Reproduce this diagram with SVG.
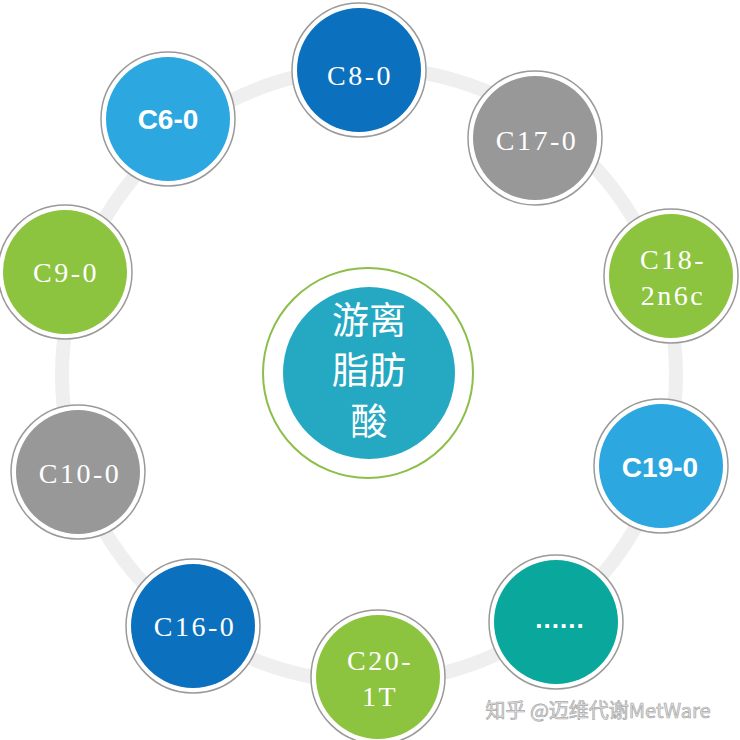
<svg xmlns="http://www.w3.org/2000/svg" width="740" height="740" viewBox="0 0 740 740">
<style>
.ring{fill:#fff;stroke:#9a9a9a;stroke-width:1.5}
.lbl{font-family:"Liberation Serif","Times New Roman",serif;font-size:28px;fill:#fff;text-anchor:middle;letter-spacing:2.5px}
.bold{font-family:"Liberation Sans",Arial,sans-serif;font-size:28px;font-weight:bold;fill:#fff;text-anchor:middle}
.cn{font-family:"Noto Sans CJK SC","Noto Sans CJK JP",sans-serif;font-size:37px;fill:#fff;text-anchor:middle}
.blue{fill:#0B70BD}.gray{fill:#989898}.green{fill:#8DC43F}.lblue{fill:#2DA7E0}.teal{fill:#0AA79C}
</style>
<g id="connectors">
<circle cx="369" cy="375" r="307" fill="none" stroke="#EFEFEF" stroke-width="14"/>
</g>
<g id="center">
<circle cx="368" cy="373" r="105" fill="#fff" stroke="#8DBE4A" stroke-width="2"/>
<circle cx="369" cy="373" r="86" fill="#25A8C1"/>
<text class="cn" x="369" y="334">游离</text>
<text class="cn" x="369" y="384">脂肪</text>
<text class="cn" x="369" y="435">酸</text>
</g>
<g id="n-c8">
<circle class="ring" cx="359" cy="70" r="67"/><circle class="blue" cx="359" cy="70" r="62"/>
<text class="lbl" x="360" y="85">C8-0</text>
</g>
<g id="n-c17">
<circle class="ring" cx="535" cy="138" r="67"/><circle class="gray" cx="535" cy="138" r="62"/>
<text class="lbl" x="537" y="150">C17-0</text>
</g>
<g id="n-c18">
<circle class="ring" cx="671" cy="276" r="67"/><circle class="green" cx="671" cy="276" r="62"/>
<text class="lbl" x="673" y="269">C18-</text>
<text class="lbl" x="673" y="305">2n6c</text>
</g>
<g id="n-c19">
<circle class="ring" cx="661" cy="466" r="67"/><circle class="lblue" cx="661" cy="466" r="62"/>
<text class="bold" x="660" y="477">C19-0</text>
</g>
<g id="n-more">
<circle class="ring" cx="556" cy="622" r="67"/><circle class="teal" cx="556" cy="622" r="62"/>
<text class="bold" x="560" y="628" style="font-size:26px;letter-spacing:1px">......</text>
</g>
<g id="n-c20">
<circle class="ring" cx="378" cy="677" r="67"/><circle class="green" cx="378" cy="677" r="62"/>
<text class="lbl" x="380" y="670">C20-</text>
<text class="lbl" x="380" y="706">1T</text>
</g>
<g id="n-c16">
<circle class="ring" cx="193" cy="626" r="67"/><circle class="blue" cx="193" cy="626" r="62"/>
<text class="lbl" x="195" y="636">C16-0</text>
</g>
<g id="n-c10">
<circle class="ring" cx="78" cy="472" r="67"/><circle class="gray" cx="78" cy="472" r="62"/>
<text class="lbl" x="80" y="483">C10-0</text>
</g>
<g id="n-c9">
<circle class="ring" cx="65" cy="272" r="67"/><circle class="green" cx="65" cy="272" r="62"/>
<text class="lbl" x="66" y="282">C9-0</text>
</g>
<g id="n-c6">
<circle class="ring" cx="168" cy="119" r="67"/><circle class="lblue" cx="168" cy="119" r="62"/>
<text class="bold" x="168" y="129">C6-0</text>
</g>
<text x="598" y="718" text-anchor="middle" style="font-family:'Noto Sans CJK SC',sans-serif;font-size:20px;fill:#e4e4e4;stroke:#a8a8a8;stroke-width:0.7">知乎 @迈维代谢MetWare</text>
</svg>
